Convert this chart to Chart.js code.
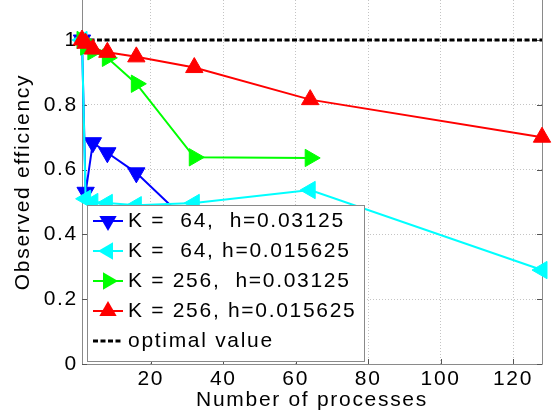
<!DOCTYPE html>
<html>
<head>
<meta charset="utf-8">
<script src="https://cdn.jsdelivr.net/npm/chart.js@4.4.0/dist/chart.umd.min.js"></script>
<style>
html, body { margin: 0; padding: 0; background: #fff; }
</style>
</head>
<body>
<canvas id="grafico" width="556" height="419"></canvas>
<script>
const PROCESOS = [1, 2, 4, 8, 16, 32, 64, 128];
const ETIQUETAS = ["K =  64,  h=0.03125", "K =  64, h=0.015625", "K = 256,  h=0.03125", "K = 256, h=0.015625", "optimal value"];
const EF_K64_H1 = [1.0, 0.53, 0.683, 0.652, 0.59, 0.42];
const EF_K64_H2 = [1.0, 0.51, 0.50, 0.497, 0.49, 0.497, 0.537, 0.29];
const EF_K256_H1 = [1.0, 0.98, 0.965, 0.945, 0.865, 0.638, 0.636];
const EF_K256_H2 = [1.0, 0.99, 0.972, 0.962, 0.948, 0.915, 0.816, 0.70];
const OPTIMO_X = [1, 128];
const OPTIMO_Y = [1, 1];
const TICKS_X = [20, 40, 60, 80, 100, 120];
const TICKS_Y = [0, 0.2, 0.4, 0.6, 0.8, 1];

const FUENTE = "'Liberation Sans', Arial, Helvetica, sans-serif";
const ESPACIADO = "1.7px";

function puntos(xs, ys){
    return ys.map((y, i) => ({x: xs[i], y: y}));
}

function triangulo(ctx, x, y, r, grados){
    let rad = grados * Math.PI / 180;
    ctx.beginPath();
    for(let i = 0; i < 3; i++){
        const px = x + Math.sin(rad) * r;
        const py = y - Math.cos(rad) * r;
        if(i == 0) ctx.moveTo(px, py); else ctx.lineTo(px, py);
        rad += 2 * Math.PI / 3;
    }
    ctx.closePath();
}

function serie(etiqueta, datos, color, giro, orden){
    return {
        label: etiqueta,
        data: datos,
        borderColor: color,
        backgroundColor: color,
        borderWidth: 2,
        pointStyle: "triangle",
        pointRotation: giro,
        pointRadius: 10,
        pointBorderWidth: 1,
        pointBorderColor: color,
        pointBackgroundColor: color,
        tension: 0,
        clip: false,
        order: orden
    };
}

// ejes estilo matlab + leyenda dentro del grafico
const pluginEjes = {
    id: "ejes",
    beforeLayout(chart){ chart.ctx.letterSpacing = ESPACIADO; },
    beforeDraw(chart){ chart.ctx.letterSpacing = ESPACIADO; },
    beforeDatasetsDraw(chart){
        const ctx = chart.ctx;
        const a = chart.chartArea;
        const sx = chart.scales.x, sy = chart.scales.y;
        ctx.save();
        ctx.strokeStyle = "#8a8a8a";
        ctx.lineWidth = 1;
        ctx.beginPath();
        ctx.moveTo(a.left + 0.5, a.top);
        ctx.lineTo(a.left + 0.5, a.bottom + 0.5);
        ctx.lineTo(a.right + 0.5, a.bottom + 0.5);
        ctx.lineTo(a.right + 0.5, a.top);
        ctx.stroke();
        ctx.strokeStyle = "#555";
        ctx.beginPath();
        for(const v of TICKS_X){
            const px = Math.round(sx.getPixelForValue(v)) + 0.5;
            ctx.moveTo(px, a.bottom);
            ctx.lineTo(px, a.bottom - 5);
        }
        for(const v of TICKS_Y){
            const py = Math.round(sy.getPixelForValue(v)) + 0.5;
            ctx.moveTo(a.left, py);
            ctx.lineTo(a.left + 5, py);
            ctx.moveTo(a.right, py);
            ctx.lineTo(a.right - 5, py);
        }
        ctx.stroke();
        ctx.restore();
    },
    afterDraw(chart){
        const ctx = chart.ctx;
        const ds = chart.data.datasets;
        ctx.save();
        ctx.letterSpacing = ESPACIADO;
        ctx.fillStyle = "#fff";
        ctx.fillRect(87, 205, 277, 156);
        ctx.strokeStyle = "#8a8a8a";
        ctx.lineWidth = 1;
        ctx.strokeRect(87.5, 205.5, 277, 156);
        ctx.font = "21px " + FUENTE;
        ctx.textBaseline = "middle";
        for(let i = 0; i < ETIQUETAS.length; i++){
            const d = ds.find(s => s.label == ETIQUETAS[i]);
            const y = 221 + 30 * i;
            ctx.strokeStyle = d.borderColor;
            ctx.lineWidth = d.borderWidth;
            ctx.setLineDash(d.borderDash || []);
            ctx.beginPath();
            ctx.moveTo(93, y);
            ctx.lineTo(123, y);
            ctx.stroke();
            ctx.setLineDash([]);
            if(d.pointRadius > 0){
                ctx.fillStyle = d.backgroundColor;
                triangulo(ctx, 108, y, d.pointRadius, d.pointRotation);
                ctx.fill();
            }
            ctx.fillStyle = "#000";
            ctx.fillText(ETIQUETAS[i], 128, y);
        }
        ctx.restore();
    }
};

function main(){
    const ctx = document.getElementById("grafico").getContext("2d");
    const fuenteEjes = {family: FUENTE, size: 21};
    new Chart(ctx, {
        type: "line",
        data: {
            datasets: [
                serie(ETIQUETAS[0], puntos(PROCESOS, EF_K64_H1), "#0000ff", 180, 4),
                serie(ETIQUETAS[1], puntos(PROCESOS, EF_K64_H2), "#00ffff", 270, 3),
                serie(ETIQUETAS[2], puntos(PROCESOS, EF_K256_H1), "#00ff00", 90, 2),
                serie(ETIQUETAS[3], puntos(PROCESOS, EF_K256_H2), "#ff0000", 0, 1),
                {
                    label: ETIQUETAS[4],
                    data: puntos(OPTIMO_X, OPTIMO_Y),
                    borderColor: "#000",
                    borderWidth: 3,
                    borderDash: [5, 2.5],
                    pointRadius: 0,
                    clip: false,
                    order: 5
                }
            ]
        },
        options: {
            responsive: false,
            animation: false,
            devicePixelRatio: 1,
            layout: {autoPadding: false, padding: {left: 0, right: 14, top: 0, bottom: 0}},
            plugins: {legend: {display: false}, tooltip: {enabled: false}},
            scales: {
                x: {
                    type: "linear",
                    min: 1,
                    max: 128,
                    afterBuildTicks: s => { s.ticks = TICKS_X.map(v => ({value: v})); },
                    afterFit: s => { s.height = 55; s.paddingLeft = 0; s.paddingRight = 0; },
                    grid: {color: "#c4c4c4", lineWidth: 1, drawTicks: false},
                    border: {display: false, dash: [1, 2]},
                    ticks: {color: "#000", font: fuenteEjes, padding: 3, maxRotation: 0, autoSkip: false},
                    title: {display: true, text: "Number of processes", color: "#000", font: fuenteEjes, padding: {top: 0, bottom: 6}}
                },
                y: {
                    min: 0,
                    max: 1.1235,
                    afterBuildTicks: s => { s.ticks = TICKS_Y.map(v => ({value: v})); },
                    afterFit: s => { s.width = 82; s.paddingTop = 0; s.paddingBottom = 0; },
                    grid: {color: "#c4c4c4", lineWidth: 1, drawTicks: false},
                    border: {display: false, dash: [1, 2]},
                    ticks: {color: "#000", font: fuenteEjes, padding: 4, callback: v => String(Math.round(v * 10) / 10)},
                    title: {display: true, text: "Observed efficiency", color: "#000", font: fuenteEjes, padding: {top: 11, bottom: 0}}
                }
            }
        },
        plugins: [pluginEjes]
    });
}

window.addEventListener("DOMContentLoaded", main);
</script>
</body>
</html>
